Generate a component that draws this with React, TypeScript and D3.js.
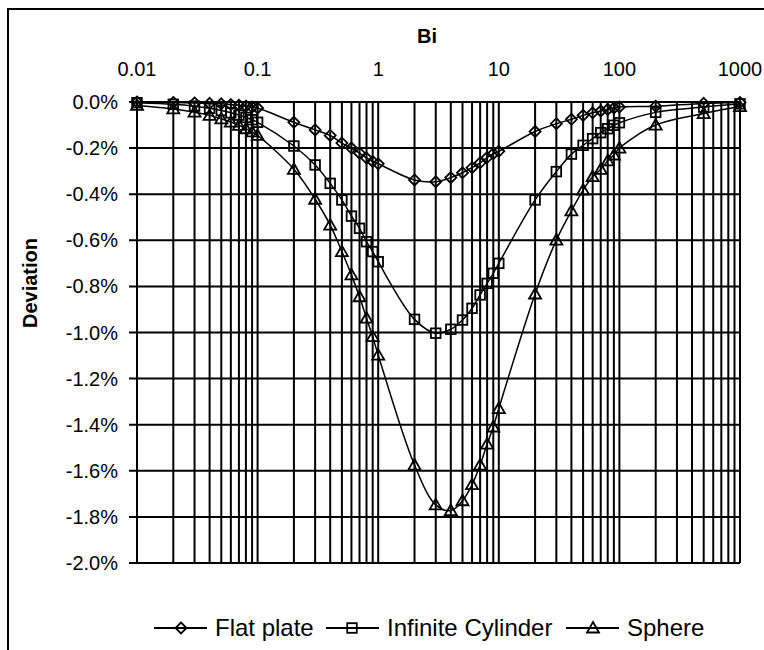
import * as d3 from 'd3';

// Bi values (x), deviations in percent (y)
const bi = [
  0.01, 0.02, 0.03, 0.04, 0.05, 0.06, 0.07, 0.08, 0.09,
  0.1, 0.2, 0.3, 0.4, 0.5, 0.6, 0.7, 0.8, 0.9,
  1, 2, 3, 4, 5, 6, 7, 8, 9,
  10, 20, 30, 40, 50, 60, 70, 80, 90,
  100, 200, 500, 1000,
];

const flatPlate = [
  0, -0.002, -0.004, -0.006, -0.008, -0.011, -0.014, -0.018, -0.022,
  -0.026, -0.088, -0.121, -0.145, -0.178, -0.2, -0.222, -0.243, -0.258,
  -0.268, -0.338, -0.346, -0.328, -0.307, -0.285, -0.264, -0.241, -0.224,
  -0.214, -0.128, -0.094, -0.075, -0.058, -0.047, -0.039, -0.032, -0.026,
  -0.022, -0.018, -0.006, -0.002,
];

const cylinder = [
  -0.003, -0.01, -0.018, -0.027, -0.037, -0.047, -0.057, -0.067, -0.077,
  -0.088, -0.191, -0.273, -0.353, -0.425, -0.495, -0.548, -0.606, -0.649,
  -0.693, -0.943, -1.003, -0.986, -0.946, -0.895, -0.837, -0.787, -0.743,
  -0.7, -0.425, -0.302, -0.226, -0.188, -0.159, -0.133, -0.116, -0.101,
  -0.09, -0.045, -0.022, -0.008,
];

const sphere = [
  -0.015, -0.03, -0.044, -0.058, -0.073, -0.087, -0.101, -0.116, -0.13,
  -0.145, -0.292, -0.422, -0.534, -0.649, -0.75, -0.845, -0.938, -1.018,
  -1.098, -1.575, -1.748, -1.773, -1.73, -1.66, -1.575, -1.484, -1.41,
  -1.33, -0.833, -0.599, -0.472, -0.382, -0.324, -0.292, -0.255, -0.23,
  -0.2, -0.1, -0.05, -0.02,
];

const xLabels = [0.01, 0.1, 1, 10, 100, 1000];
const seriesNames = ['Flat plate', 'Infinite Cylinder', 'Sphere'];
const seriesShapes = ['diamond', 'square', 'triangle'];

const FONT = '"Liberation Sans", Arial, sans-serif';

function Marker({ shape, x, y }: { shape: string; x: number; y: number }) {
  const common = { fill: 'none', stroke: 'black', strokeWidth: 1.8 };
  if (shape === 'diamond') {
    return <path d={`M${x},${y - 5.5}L${x + 5.5},${y}L${x},${y + 5.5}L${x - 5.5},${y}Z`} {...common} />;
  }
  if (shape === 'square') {
    return <rect x={x - 4.8} y={y - 4.8} width={9.6} height={9.6} {...common} />;
  }
  return <path d={`M${x},${y - 6}L${x + 6},${y + 4.5}L${x - 6},${y + 4.5}Z`} {...common} />;
}

export default function App() {
  const margin = { left: 137, right: 740, top: 102, bottom: 563 };

  const x = d3.scaleLog().domain([0.01, 1000]).range([margin.left, margin.right]);
  const y = d3.scaleLinear().domain([-2, 0]).range([margin.bottom, margin.top]);

  const line = d3.line<[number, number]>()
    .x(d => x(d[0]))
    .y(d => y(d[1]))
    .curve(d3.curveCatmullRom.alpha(0.5));

  const series = [flatPlate, cylinder, sphere].map(vals => bi.map((b, i) => [b, vals[i]] as [number, number]));

  const legend = [
    { lx: 154, mx: 181, tx: 215 },
    { lx: 326, mx: 352, tx: 387 },
    { lx: 566, mx: 593, tx: 627 },
  ];
  const legendY = 628;

  return (
    <svg
      width={764}
      height={650}
      style={{ position: 'absolute', left: 0, top: 0, background: 'white' }}
      fontFamily={FONT}
    >
      {/* chart frame, runs off the right and bottom edges */}
      <rect x={8} y={9} width={800} height={700} fill="white" stroke="black" strokeWidth={2} />

      {/* vertical gridlines */}
      {x.ticks().map(t => (
        <line key={t} x1={x(t)} x2={x(t)} y1={y(0)} y2={y(-2)} stroke="black" strokeWidth={2} />
      ))}
      {/* horizontal gridlines and y labels */}
      {y.ticks(10).map(t => (
        <g key={t}>
          <line x1={x(0.01) - 8} x2={x(1000)} y1={y(t)} y2={y(t)} stroke="black" strokeWidth={2} />
          <text x={118} y={y(t)} dy="0.35em" textAnchor="end" fontSize={20}>
            {t.toFixed(1) + '%'}
          </text>
        </g>
      ))}

      {/* top x labels */}
      {xLabels.map(t => (
        <text key={t} x={x(t)} y={76} textAnchor="middle" fontSize={20}>
          {String(t)}
        </text>
      ))}
      <text x={427} y={43} textAnchor="middle" fontSize={20} fontWeight="bold">Bi</text>
      <text
        transform={`translate(37,283) rotate(-90)`}
        textAnchor="middle"
        fontSize={20}
        fontWeight="bold"
      >
        Deviation
      </text>

      {/* series */}
      {series.map((s, i) => (
        <g key={seriesNames[i]}>
          <path d={line(s) || ''} fill="none" stroke="black" strokeWidth={1.5} />
          {s.map(d => (
            <Marker key={d[0]} shape={seriesShapes[i]} x={x(d[0])} y={y(d[1])} />
          ))}
        </g>
      ))}

      {/* legend */}
      {legend.map((l, i) => (
        <g key={seriesNames[i]}>
          <line x1={l.lx} x2={l.lx + 53} y1={legendY} y2={legendY} stroke="black" strokeWidth={2} />
          <Marker shape={seriesShapes[i]} x={l.mx} y={legendY} />
          <text x={l.tx} y={legendY} dy="0.35em" fontSize={24}>{seriesNames[i]}</text>
        </g>
      ))}
    </svg>
  );
}
